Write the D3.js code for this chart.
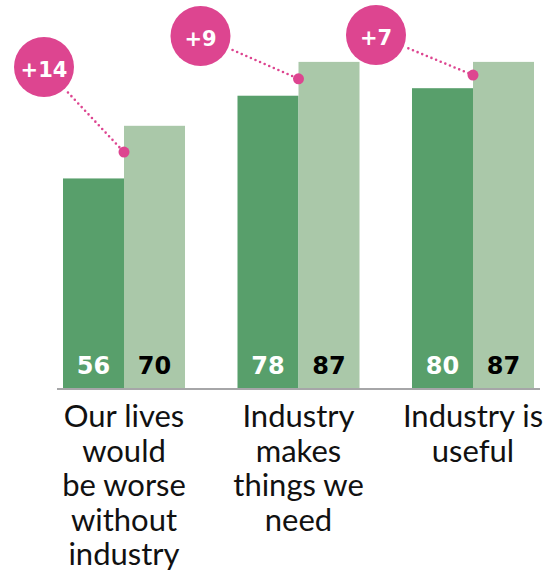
<!DOCTYPE html>
<html>
<head>
<meta charset="utf-8">
<script src="https://cdn.jsdelivr.net/npm/d3@7"></script>
<style>
  html, body { margin: 0; padding: 0; background: #fff; }
  svg { display: block; }
</style>
</head>
<body>
<svg id="chart" width="560" height="576"></svg>
<script>
const categories = [
  ["Our lives", "would", "be worse", "without", "industry"],
  ["Industry", "makes", "things we", "need"],
  ["Industry is", "useful"]
];
const categoryKeys = ["lives", "makes", "useful"];
const before = [56, 78, 80];
const after = [70, 87, 87];
const changes = ["+14", "+9", "+7"];

const colors = { before: "#589f6b", after: "#aac8a9", pink: "#dd4590", axis: "#a6a6a8" };
// badge placement relative to group left edge / chart top
const badgeDx = [-19, -37, -36];
const badgeY = [67, 36, 35];

const svg = d3.select("#chart");

const x = d3.scaleBand().domain(categoryKeys).range([63, 534]).paddingInner(0.3008).paddingOuter(0);
const sub = d3.scaleBand().domain(["before", "after"]).range([0, x.bandwidth()]).padding(0);
const y = d3.scaleLinear().domain([0, 100]).range([389, 13]);

const groups = svg.selectAll("g.grp").data(categoryKeys).join("g")
  .attr("class", "grp")
  .attr("transform", d => `translate(${x(d)},0)`);

// bars
groups.each(function(k, i) {
  const g = d3.select(this);
  const vals = [{s: "before", v: before[i]}, {s: "after", v: after[i]}];
  g.selectAll("rect").data(vals).join("rect")
    .attr("x", d => sub(d.s))
    .attr("width", sub.bandwidth())
    .attr("y", d => y(d.v))
    .attr("height", d => y(0) - y(d.v))
    .attr("fill", d => colors[d.s]);
  g.selectAll("text.val").data(vals).join("text")
    .attr("class", "val")
    .attr("x", d => sub(d.s) + sub.bandwidth() / 2)
    .attr("y", 374)
    .attr("text-anchor", "middle")
    .attr("font-family", "'DejaVu Sans', sans-serif")
    .attr("font-weight", "bold")
    .attr("font-size", 24)
    .attr("fill", d => d.s === "before" ? "#ffffff" : "#000000")
    .text(d => d.v);
});

// baseline
svg.append("line")
  .attr("x1", 57).attr("x2", 540)
  .attr("y1", y(0)).attr("y2", y(0))
  .attr("stroke", colors.axis).attr("stroke-width", 2);

// category labels
groups.each(function(k, i) {
  const t = d3.select(this).append("text")
    .attr("text-anchor", "middle")
    .attr("font-family", "Lato, 'Open Sans', sans-serif")
    .attr("font-size", 31)
    .attr("fill", "#111");
  t.selectAll("tspan").data(categories[i]).join("tspan")
    .attr("x", x.bandwidth() / 2)
    .attr("y", (d, j) => 427 + j * 34.5)
    .text(d => d);
});

// badges
groups.each(function(k, i) {
  const g = d3.select(this);
  const cx = badgeDx[i], cy = badgeY[i], r = 30;
  const dx = sub("after"), dy = y((before[i] + after[i]) / 2);
  const ang = Math.atan2(dy - cy, dx - cx);
  const sx = cx + Math.cos(ang) * (r + 5), sy = cy + Math.sin(ang) * (r + 5);
  g.append("line")
    .attr("x1", sx).attr("y1", sy).attr("x2", dx).attr("y2", dy)
    .attr("stroke", colors.pink).attr("stroke-width", 2.6)
    .attr("stroke-linecap", "round")
    .attr("stroke-dasharray", "0 5");
  g.append("circle").attr("cx", dx).attr("cy", dy).attr("r", 5.5).attr("fill", colors.pink);
  g.append("circle").attr("cx", cx).attr("cy", cy).attr("r", r).attr("fill", colors.pink);
  g.append("text")
    .attr("x", cx).attr("y", cy + 9.5)
    .attr("text-anchor", "middle")
    .attr("font-family", "'DejaVu Sans', sans-serif")
    .attr("font-weight", "bold")
    .attr("font-size", 21)
    .attr("fill", "#fff")
    .text(changes[i]);
});
</script>
</body>
</html>
